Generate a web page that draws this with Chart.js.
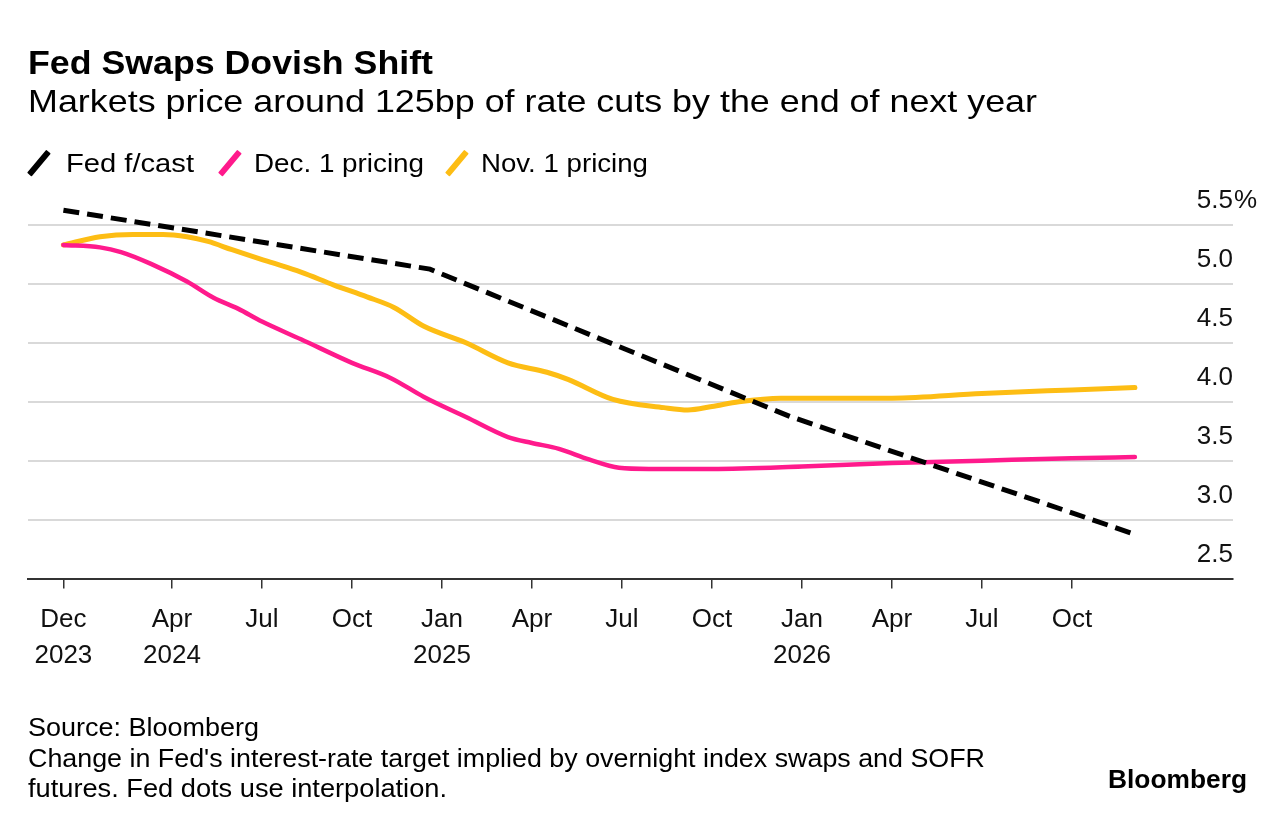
<!DOCTYPE html>
<html><head><meta charset="utf-8">
<script src="https://cdn.jsdelivr.net/npm/chart.js@4.4.0/dist/chart.umd.min.js"></script>
<style>
html,body{margin:0;padding:0;background:#fff;}
body{width:1286px;height:826px;position:relative;overflow:hidden;font-family:"Liberation Sans",Arial,sans-serif;color:#000;}
#c{position:absolute;left:0;top:0;}
.t{position:absolute;white-space:nowrap;line-height:1;transform-origin:0 0;color:#000;}
.mk{position:absolute;width:5.5px;height:30px;border-radius:1px;transform:rotate(40deg);}
</style></head><body>
<canvas id="c" width="1286" height="826"></canvas>
<div id="texts"></div>
<script>
// x values are months since 1 Jan 2024
const fedX = [-0.62, 11.6, 23.6, 35.1];
const fedY = [5.625, 5.125, 3.875, 2.875];

const decX = [-0.62, 0.6, 1.3, 2.3, 3.5, 4.4, 5.2, 6.0, 7.3, 9.0, 10.3, 11.4, 12.8, 14.2, 15.0, 15.9, 16.9, 17.9, 18.9, 21.0, 24.0, 27.0, 30.0, 33.0, 35.1];
const decY = [5.33, 5.31, 5.27, 5.17, 5.02, 4.88, 4.79, 4.68, 4.53, 4.33, 4.20, 4.04, 3.87, 3.70, 3.65, 3.60, 3.51, 3.44, 3.43, 3.43, 3.45, 3.48, 3.50, 3.52, 3.53];

const novX = [-0.62, 0.6, 1.7, 2.7, 3.5, 4.2, 5.0, 6.2, 7.3, 8.4, 9.5, 10.4, 11.4, 12.8, 14.2, 15.5, 16.2, 17.7, 19.4, 20.2, 21.0, 21.9, 23.3, 27.0, 30.0, 33.0, 35.1];
const novY = [5.33, 5.40, 5.42, 5.42, 5.40, 5.36, 5.29, 5.19, 5.10, 4.99, 4.89, 4.80, 4.64, 4.50, 4.33, 4.25, 4.19, 4.02, 3.95, 3.93, 3.96, 4.00, 4.03, 4.03, 4.07, 4.10, 4.12];

const xTickVals = [-0.62, 3, 6, 9, 12, 15, 18, 21, 24, 27, 30, 33];
const xTickLabels = [['Dec','2023'], ['Apr','2024'], 'Jul', 'Oct', ['Jan','2025'], 'Apr', 'Jul', 'Oct', ['Jan','2026'], 'Apr', 'Jul', 'Oct'];
const yTickVals = [2.5, 3, 3.5, 4, 4.5, 5, 5.5];

const seriesNames = ['Fed f/cast', 'Dec. 1 pricing', 'Nov. 1 pricing'];
const seriesColors = ['#000000', '#ff1a8c', '#fdbd14'];

// ---- HTML texts ----
const FONT = '"Liberation Sans", Arial, sans-serif';
const texts = [
  {t:'Fed Swaps Dovish Shift', x:28, base:73.5, w:405, size:34, weight:'bold'},
  {t:'Markets price around 125bp of rate cuts by the end of next year', x:28, base:112, w:1009, size:32, weight:'normal'},
  {t:seriesNames[0], x:66, base:172.5, w:128, size:25.5, weight:'normal'},
  {t:seriesNames[1], x:254, base:172.5, w:170, size:25.5, weight:'normal'},
  {t:seriesNames[2], x:481, base:172.5, w:167, size:25.5, weight:'normal'},
  {t:'Source: Bloomberg', x:28, base:736.5, w:231, size:25, weight:'normal'},
  {t:"Change in Fed's interest-rate target implied by overnight index swaps and SOFR", x:28, base:767, w:957, size:25, weight:'normal'},
  {t:'futures. Fed dots use interpolation.', x:28, base:797, w:419, size:25, weight:'normal'},
  {t:'Bloomberg', x:1108, base:788, w:139, size:26, weight:'bold'}
];
const holder = document.getElementById('texts');
texts.forEach(o => {
  const d = document.createElement('div');
  d.className = 't';
  d.textContent = o.t;
  d.style.font = o.weight + ' ' + o.size + 'px ' + FONT;
  d.style.lineHeight = '1';
  d.style.left = o.x + 'px';
  d.style.top = (o.base - 0.8465 * o.size) + 'px';
  holder.appendChild(d);
  const mw = d.getBoundingClientRect().width;
  d.style.transform = 'scaleX(' + (o.w / mw) + ')';
});
// legend markers
const mkCenters = [39, 230, 457];
mkCenters.forEach((cx, i) => {
  const m = document.createElement('div');
  m.className = 'mk';
  m.style.background = seriesColors[i];
  m.style.left = (cx - 2.75) + 'px';
  m.style.top = (162.5 - 15) + 'px';
  holder.appendChild(m);
});

// ---- Chart ----
const pctPlugin = {
  id: 'pct',
  afterDraw(ch) {
    const ys = ch.scales.y, ctx = ch.ctx;
    ctx.save();
    ctx.font = '26px ' + FONT;
    ctx.fillStyle = '#111';
    ctx.textAlign = 'left';
    ctx.textBaseline = 'middle';
    ctx.fillText('%', ys.left + 1, ys.getPixelForValue(5.5) - 24);
    ctx.restore();
  }
};

const toPts = (xs, ys) => xs.map((x, i) => ({x: x, y: ys[i]}));

new Chart(document.getElementById('c'), {
  type: 'line',
  data: {
    datasets: [
      {label: seriesNames[0], data: toPts(fedX, fedY), borderColor: seriesColors[0], borderWidth: 5,
       borderDash: [16, 8], tension: 0, pointRadius: 0, borderCapStyle: 'butt'},
      {label: seriesNames[1], data: toPts(decX, decY), borderColor: seriesColors[1], borderWidth: 4.5,
       cubicInterpolationMode: 'monotone', pointRadius: 0, borderCapStyle: 'round', borderJoinStyle: 'round'},
      {label: seriesNames[2], data: toPts(novX, novY), borderColor: seriesColors[2], borderWidth: 5,
       cubicInterpolationMode: 'monotone', pointRadius: 0, borderCapStyle: 'round', borderJoinStyle: 'round'}
    ]
  },
  options: {
    responsive: false,
    animation: false,
    devicePixelRatio: 1,
    layout: {padding: {left: 28, top: 195.5, right: 53, bottom: 0}},
    plugins: {legend: {display: false}, tooltip: {enabled: false}, title: {display: false}},
    scales: {
      x: {
        type: 'linear', min: -1.8, max: 38.37,
        afterBuildTicks: s => { s.ticks = xTickVals.map(v => ({value: v})); },
        afterFit: s => { s.height = 247.5; },
        ticks: {autoSkip: false, maxRotation: 0, minRotation: 0, padding: 14,
                callback: (v, i) => xTickLabels[i],
                font: {family: FONT, size: 26, lineHeight: 1.36}, color: '#111'},
        grid: {display: true, drawOnChartArea: false, drawTicks: true, tickLength: 10, color: '#333', lineWidth: 1.5},
        border: {display: true, color: '#333', width: 2}
      },
      y: {
        type: 'linear', position: 'right', min: 2.5, max: 5.75,
        afterBuildTicks: s => { s.ticks = yTickVals.map(v => ({value: v})); },
        afterFit: s => { s.width = 0; },
        ticks: {mirror: true, padding: 0, labelOffset: -24,
                callback: v => Number(v).toFixed(1),
                font: {family: FONT, size: 26}, color: '#111'},
        grid: {color: c => (c.tick && c.tick.value === 2.5) ? 'rgba(0,0,0,0)' : '#d9d9d9', lineWidth: 2, drawTicks: false},
        border: {display: false}
      }
    }
  },
  plugins: [pctPlugin]
});
</script>
</body></html>
